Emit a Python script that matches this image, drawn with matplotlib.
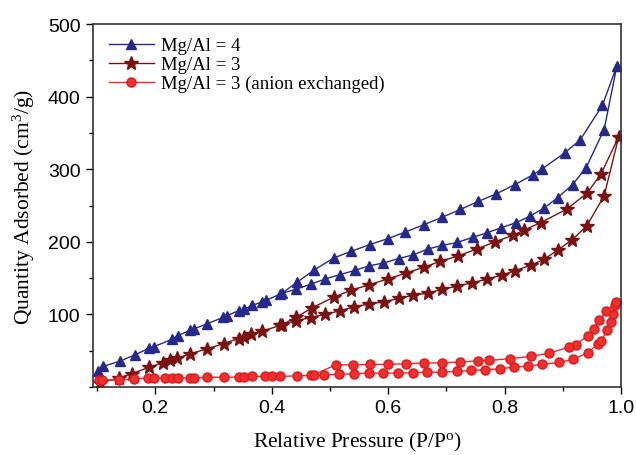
import matplotlib
matplotlib.use("Agg")
import matplotlib.pyplot as plt
from matplotlib.ticker import MultipleLocator

plt.rcParams['mathtext.fontset'] = 'custom'
plt.rcParams['mathtext.rm'] = 'Liberation Serif'
plt.rcParams['mathtext.it'] = 'Liberation Serif:italic'

# Mg/Al = 4 (adsorption then desorption)
x4 = [0.102, 0.111, 0.139, 0.166, 0.190, 0.198, 0.229, 0.239, 0.260, 0.266, 0.289, 0.317,
      0.323, 0.343, 0.353, 0.366, 0.384, 0.391, 0.415, 0.441, 0.467, 0.491, 0.517, 0.543,
      0.567, 0.592, 0.618, 0.643, 0.668, 0.693, 0.719, 0.745, 0.769, 0.794, 0.820, 0.844,
      0.868, 0.891, 0.917, 0.940, 0.971, 0.993,
      0.968, 0.930, 0.903, 0.864, 0.848, 0.818, 0.785, 0.755, 0.724, 0.692, 0.661, 0.629,
      0.599, 0.568, 0.537, 0.507, 0.472, 0.444, 0.418]
y4 = [22.4, 28.5, 35.5, 44.6, 53.7, 55.7, 65.8, 70.9, 78.0, 80.0, 87.0, 96.1,
      98.1, 105.2, 107.2, 112.3, 117.3, 119.4, 128.4, 134.5, 141.6, 148.6, 154.7, 160.7,
      166.8, 170.8, 176.9, 182.0, 190.0, 195.1, 199.1, 206.2, 212.2, 219.3, 226.4, 235.5,
      246.6, 260.7, 278.9, 302.1, 354.6, 442.5,
      387.9, 340.5, 322.3, 300.1, 292.0, 278.9, 265.8, 255.7, 244.6, 233.5, 223.4, 213.3,
      204.2, 196.1, 187.0, 177.9, 160.7, 144.6, 129.4]

# Mg/Al = 3
x3 = [0.105, 0.137, 0.160, 0.190, 0.214, 0.226, 0.238, 0.260, 0.289, 0.318, 0.343, 0.352,
      0.364, 0.384, 0.415, 0.441, 0.467, 0.491, 0.517, 0.541, 0.567, 0.593, 0.618, 0.643,
      0.669, 0.693, 0.719, 0.744, 0.769, 0.795, 0.818, 0.845, 0.868, 0.892, 0.916, 0.941,
      0.971, 0.996,
      0.966, 0.942, 0.907, 0.862, 0.834, 0.815, 0.784, 0.752, 0.720, 0.689, 0.661, 0.630,
      0.600, 0.567, 0.537, 0.507, 0.470, 0.442, 0.417]
y3 = [6.0, 12.3, 18.4, 27.5, 33.5, 36.6, 39.6, 45.6, 52.7, 59.8, 66.8, 68.9,
      72.9, 77.0, 85.0, 91.1, 95.6, 100.2, 104.8, 110.3, 114.3, 117.3, 122.0, 126.4,
      129.4, 134.5, 139.0, 143.6, 148.2, 154.2, 160.1, 167.8, 175.9, 189.0, 202.7, 221.8,
      263.2, 344.5,
      294.0, 267.2, 245.1, 226.4, 216.3, 209.2, 200.1, 190.0, 180.5, 172.9, 164.8, 156.7,
      149.1, 140.6, 133.5, 123.9, 109.3, 96.1, 85.5]

# Mg/Al = 3 (anion exchanged)
xe = [0.103, 0.108, 0.137, 0.163, 0.188, 0.197, 0.217, 0.229, 0.239, 0.260, 0.266, 0.289,
      0.318, 0.343, 0.352, 0.366, 0.389, 0.401, 0.415, 0.444, 0.467, 0.490, 0.516, 0.541,
      0.567, 0.592, 0.617, 0.642, 0.666, 0.692, 0.718, 0.742, 0.766, 0.792, 0.817, 0.841,
      0.865, 0.894, 0.918, 0.943, 0.960, 0.966, 0.976, 0.983, 0.986, 0.989, 0.992,
      0.975, 0.963, 0.953, 0.943, 0.923, 0.911, 0.877, 0.845, 0.809, 0.774, 0.755, 0.724,
      0.692, 0.662, 0.630, 0.600, 0.569, 0.539, 0.510, 0.472]
ye = [10.3, 10.3, 9.3, 11.3, 12.3, 12.3, 12.3, 12.3, 12.3, 12.7, 12.7, 13.1,
      13.5, 13.5, 13.5, 14.5, 14.5, 14.5, 14.5, 15.4, 15.9, 16.9, 17.4, 18.3,
      19.1, 19.1, 19.1, 19.6, 20.4, 20.4, 21.4, 22.8, 23.8, 25.1, 27.4, 28.8,
      31.1, 34.0, 38.1, 47.3, 58.8, 63.8, 78.0, 90.1, 101.2, 112.3, 117.3,
      104.2, 92.1, 80.0, 70.9, 58.4, 55.0, 46.7, 42.1, 39.0, 36.6, 36.1, 34.3,
      33.4, 32.9, 32.1, 31.1, 31.1, 30.5, 30.5, 16.9]

labels = ['Mg/Al = 4', 'Mg/Al = 3', 'Mg/Al = 3 (anion exchanged)']

fig = plt.figure(figsize=(6.36, 4.56), dpi=100)
ax = fig.add_axes([93/636, 1-388/456, (621-93)/636, (388-25)/456])

ax.plot(x4, y4, color='#27298A', lw=1.0, marker='^', ms=7.5, mec='#27298A', mfc='#27298A', label=labels[0])
ax.plot(x3, y3, color='#7A1212', lw=1.0, marker='*', ms=10, mec='#7A1212', mfc='#7A1212', label=labels[1])
ax.plot(xe, ye, color='#F02828', lw=1.0, marker='o', ms=6.5, mec='#E01818', mfc='#F03030', label=labels[2])

ax.set_xlim(0.093, 1.0)
ax.set_ylim(0, 500)
ax.xaxis.set_minor_locator(MultipleLocator(0.1))
ax.yaxis.set_minor_locator(MultipleLocator(50))
ax.set_xticks([0.2, 0.4, 0.6, 0.8, 1.0])
ax.set_xticklabels(['0.2', '0.4', '0.6', '0.8', '1.0'])
ax.set_yticks([100, 200, 300, 400, 500])
ax.tick_params(which='major', direction='out', length=5, width=1, labelsize=14, pad=4)
ax.tick_params(which='minor', direction='out', length=3, width=1)
for lab in ax.get_xticklabels() + ax.get_yticklabels():
    lab.set_family('Liberation Sans')
for s in ax.spines.values():
    s.set_linewidth(1.2)
    s.set_color('#333333')

ax.set_xlabel(r'Relative Pressure (P/P$^{\rm o}$)', family='Liberation Serif', fontsize=15.5, labelpad=10)
ax.set_ylabel(r'Quantity Adsorbed (cm$^{3}$/g)', family='Liberation Serif', fontsize=15.5, labelpad=8)

leg = ax.legend(loc='upper left', frameon=False, prop={'family': 'Liberation Serif', 'size': 13.5},
                handlelength=2.4, handletextpad=0.4, labelspacing=0.1,
                borderaxespad=0.3, bbox_to_anchor=(0.005, 1.0))

fig.savefig('out.png', dpi=100)
